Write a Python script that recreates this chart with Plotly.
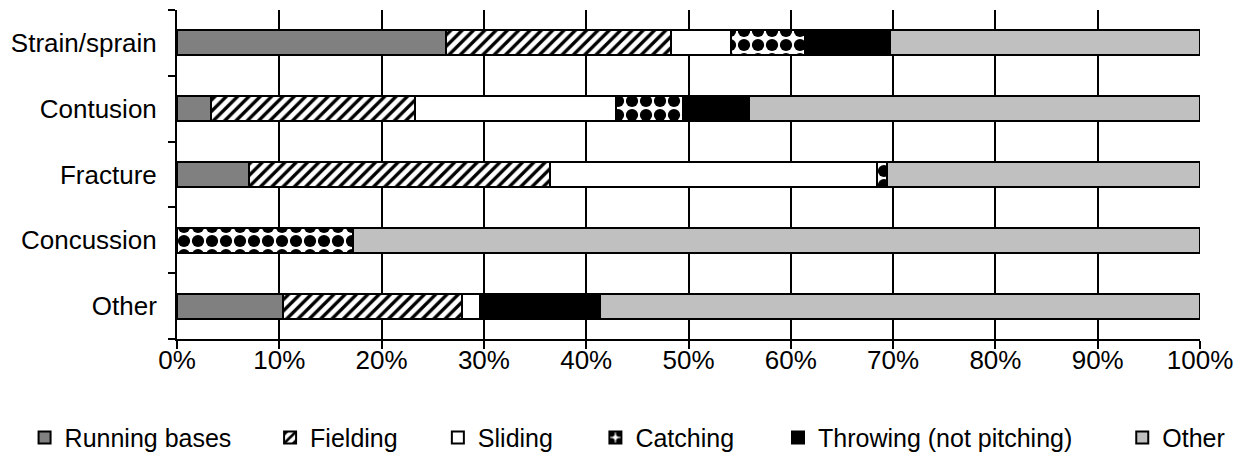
"""Stacked percentage bars: injury type by activity."""
import plotly.graph_objects as go

# Injury types (top to bottom in the chart)
injury_types = ['Strain/sprain', 'Contusion', 'Fracture', 'Concussion', 'Other']

# Share of each injury type by activity (fraction of 1)
running_bases = [0.263, 0.033, 0.070, 0.0, 0.104]
fielding = [0.220, 0.200, 0.295, 0.0, 0.175]
sliding = [0.059, 0.196, 0.319, 0.0, 0.017]
catching = [0.072, 0.066, 0.0105, 0.172, 0.0]
throwing = [0.083, 0.064, 0.0, 0.0, 0.117]
other = [0.303, 0.441, 0.3055, 0.828, 0.587]

x_ticks = [i / 10 for i in range(11)]

FONT = 'Arial, Liberation Sans, sans-serif'

# the page body has an 8px margin, so the figure is drawn offset by (8, 8)
MARGIN = {'l': 169, 'r': 53, 't': 2, 'b': 133}

fig = go.Figure()

# name, values, marker style, legend box x (paper units)
series = [
    ('Running bases', running_bases, dict(color='#808080'), -0.149),
    ('Fielding', fielding, dict(color='white', pattern=dict(shape='/', fgcolor='black', bgcolor='white',
                                                             fgopacity=1, size=8, solidity=0.42,
                                                             fillmode='replace')), 0.091),
    ('Sliding', sliding, dict(color='white'), 0.255),
    ('Catching', catching, dict(color='white', pattern=dict(shape='.', fgcolor='black', bgcolor='white',
                                                             fgopacity=1, size=14, solidity=0.6,
                                                             fillmode='replace')), 0.409),
    ('Throwing (not pitching)', throwing, dict(color='black'), 0.5875),
    ('Other', other, dict(color='#c0c0c0'), 0.924),
]

legends = {}
for i, (name, values, marker, lx) in enumerate(series):
    marker['line'] = dict(color='black', width=2)
    key = 'legend' if i == 0 else f'legend{i + 1}'
    fig.add_trace(go.Bar(y=injury_types, x=values, name=name, orientation='h',
                         marker=marker, legend=key))
    legends[key] = dict(orientation='h', x=lx, xanchor='left', y=-0.30, yanchor='middle',
                        font=dict(size=25), bgcolor='rgba(0,0,0,0)')

fig.update_layout(
    barmode='stack',
    bargap=0.62,
    width=1245, height=464,
    margin=MARGIN,
    plot_bgcolor='white', paper_bgcolor='white',
    font=dict(family=FONT, size=25, color='black'),
    showlegend=True,
    **legends,
)

fig.update_xaxes(range=[0, 1], tickvals=x_ticks, tickformat='.0%', tickfont=dict(size=26),
                 showgrid=True, gridcolor='black', gridwidth=2,
                 showline=True, linecolor='black', linewidth=2,
                 ticks='outside', ticklen=8, tickwidth=2, tickcolor='black',
                 ticklabelstandoff=-11, automargin=False,
                 zeroline=False, fixedrange=True)
fig.update_yaxes(categoryorder='array', categoryarray=injury_types[::-1], tickfont=dict(size=26),
                 tickson='boundaries', ticks='outside', ticklen=7, tickwidth=2, tickcolor='black',
                 showline=True, linecolor='black', linewidth=2, showgrid=False,
                 ticklabelstandoff=13, automargin=False, fixedrange=True)

fig.write_html("out.html")
